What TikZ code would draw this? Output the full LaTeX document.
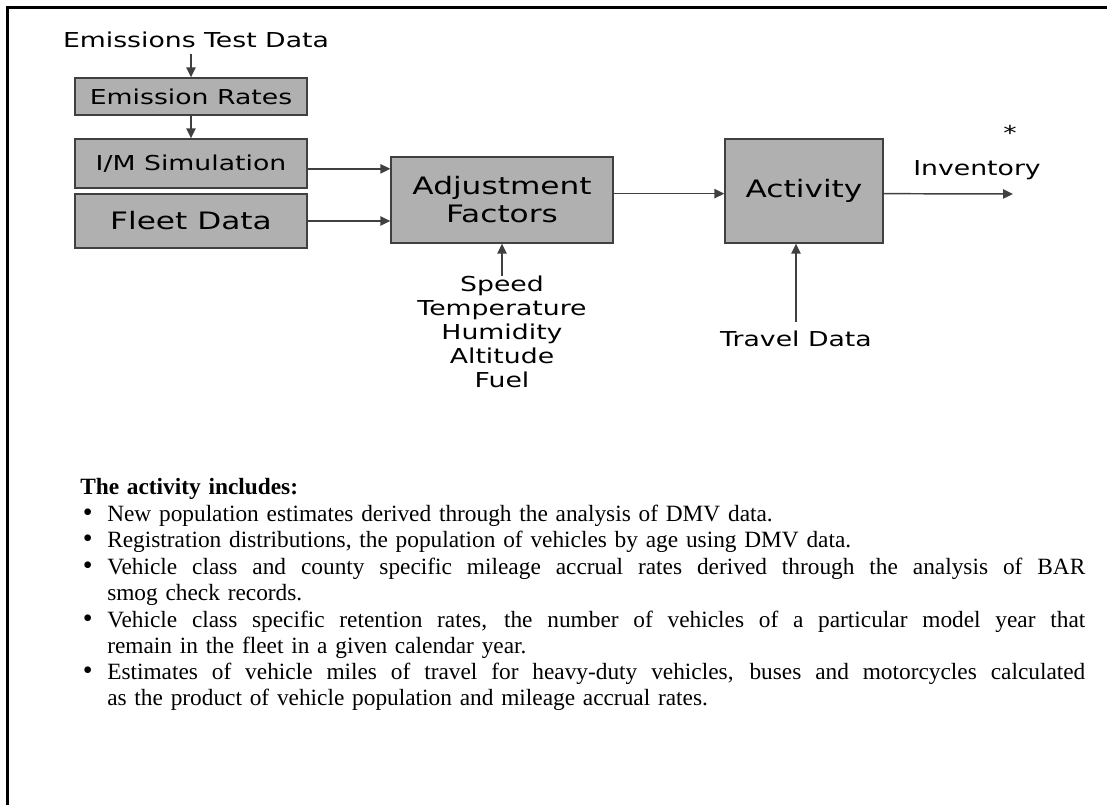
\documentclass[tikz,border=0pt]{standalone}
\usepackage{fontspec}
\usetikzlibrary{arrows.meta}
\newfontfamily\chartfont[FakeStretch=1.3]{DejaVu Sans}
\newfontfamily\notefont{Liberation Serif}
\definecolor{boxgray}{RGB}{176,176,176}
\definecolor{edgegray}{RGB}{64,64,64}
\tikzset{
    every node/.style={inner sep=0pt, font=\chartfont\fontsize{15.4pt}{18pt}\selectfont},
    block/.style={rectangle, draw=edgegray, fill=boxgray, line width=1pt},
    bigtext/.style={font=\chartfont\fontsize{18pt}{21pt}\selectfont},
    flow/.style={draw=edgegray, line width=1.1pt, -{Triangle[length=7.5pt, width=7pt]}}
}
\newcommand{\bitem}[1]{\par\noindent\hangindent=20.25pt\hangafter=1
    \makebox[20.25pt][l]{\hspace{2pt}{\fontsize{21pt}{19.5pt}\selectfont\textbullet}}#1}
\newcommand{\fullline}[1]{\makebox[733.5pt][s]{\spaceskip=0pt\xspaceskip=0pt #1}}

\begin{document}
\begin{tikzpicture}[x=0.75pt, y=-0.75pt]
    \useasboundingbox (0,0) rectangle (1107,805);
    \draw[line width=2pt] (1107,7.5) -- (7.5,7.5) -- (7.5,805);

    \node (etd) at (196,48) [anchor=base, inner ysep=3.75pt] {Emissions Test Data};
    \node (er) at (191,96.5) [block, minimum width=174pt, minimum height=27.75pt] {Emission Rates};
    \node (ims) at (191,163.5) [block, minimum width=174pt, minimum height=36.75pt] {I/M Simulation};
    \node (fleet) at (191,221) [block, bigtext, minimum width=174pt, minimum height=40.5pt] {Fleet Data};
    \node (adj) at (502,200) [block, bigtext, align=center, minimum width=166.5pt, minimum height=64.5pt] {Adjustment\\Factors};
    \node (act) at (804,191) [block, bigtext, minimum width=118.5pt, minimum height=78pt] {Activity};
    \node (inv) at (977,170) {Inventory};
    \node (star) at (1010,141) [anchor=base] {*};
    \coordinate (invend) at (1013,194);
    \node (cond) at (502,276) [anchor=north, align=center] {Speed\\Temperature\\Humidity\\Altitude\\Fuel};
    \node (trav) at (796,322) [anchor=north, inner ysep=6.75pt] {Travel Data};

    \draw (er.north |- etd.south) edge[flow] (er.north);
    \draw (er) edge[flow] (ims);
    \draw ([yshift=-4pt]ims.east) edge[flow] ([yshift=-4pt]ims.east -| adj.west);
    \draw (fleet.east) edge[flow] (fleet.east -| adj.west);
    \draw (cond) edge[flow] (adj);
    \draw ([yshift=-2pt]act.west -| adj.east) edge[flow] ([yshift=-2pt]act.west);
    \draw ([yshift=-2pt]act.east) edge[flow] (invend);
    \draw (trav.north) edge[flow] (trav.north |- act.south);

    \node (notes) at (80,478) [anchor=north west, text width=753.75pt, align=left,
        font=\notefont\fontsize{17.5pt}{19.5pt}\selectfont] {%
        \setlength{\parskip}{0.5pt}\noindent{\bfseries The activity includes:}
        \bitem{New population estimates derived through the analysis of DMV data.}
        \bitem{Registration distributions, the population of vehicles by age using DMV data.}
        \bitem{\fullline{Vehicle class and county specific mileage accrual rates derived through the analysis of BAR}\newline smog check records.}
        \bitem{\fullline{Vehicle class specific retention rates, the number of vehicles of a particular model year that}\newline remain in the fleet in a given calendar year.}
        \bitem{\fullline{Estimates of vehicle miles of travel for heavy-duty vehicles, buses and motorcycles calculated}\newline as the product of vehicle population and mileage accrual rates.}\par
    };
\end{tikzpicture}
\end{document}
